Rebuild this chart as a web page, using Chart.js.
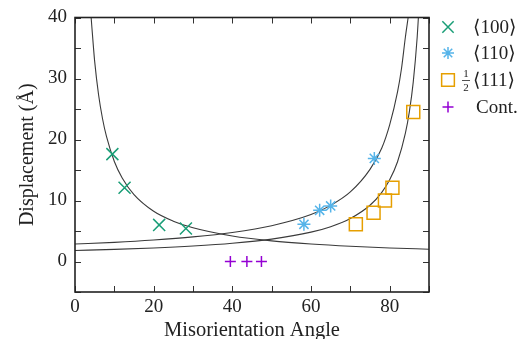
<!DOCTYPE html>
<html>
<head>
<meta charset="utf-8">
<script src="https://cdn.jsdelivr.net/npm/chart.js@4/dist/chart.umd.min.js"></script>
<style>
  html, body { margin: 0; padding: 0; background: #fff; }
</style>
</head>
<body>
<canvas id="chart" width="530" height="339"></canvas>
<script>
// measured points
const angle100 = [9.5, 12.6, 21.4, 28.2];
const disp100 = [17.6, 12.1, 6.0, 5.4];
const angle110 = [58.2, 62.2, 65.0, 76.1];
const disp110 = [6.1, 8.4, 9.1, 16.9];
const angle111 = [71.4, 75.9, 78.8, 80.7, 86.0];
const disp111 = [6.1, 8.0, 10.0, 12.1, 24.5];
const angleCont = [39.5, 43.7, 47.4];
const dispCont = [0, 0, 0];

// curves
const curveAAngle = [4.1, 5, 6, 7, 8, 10, 12, 15, 20, 25, 30, 40, 50, 60, 70, 80, 90];
const curveADisp = [40, 32.8, 27.3, 23.4, 20.5, 16.4, 13.7, 10.96, 8.23, 6.61, 5.53, 4.18, 3.38, 2.86, 2.49, 2.22, 2.02];
const curveBAngle = [0, 10, 20, 30, 40, 50, 60, 65, 70, 75, 78, 80, 82, 83, 84, 84.7];
const curveBDisp = [2.86, 3.14, 3.52, 4.03, 4.76, 5.87, 7.7, 9.2, 11.4, 15.1, 18.6, 22.4, 27.8, 31.6, 36.8, 40];
const curveCAngle = [0, 10, 20, 30, 40, 50, 60, 65, 70, 75, 78, 80, 82, 84, 85, 86, 87, 87.3];
const curveCDisp = [1.80, 1.98, 2.21, 2.53, 2.98, 3.67, 4.81, 5.71, 7.05, 9.22, 11.34, 13.4, 16.36, 21.03, 24.53, 29.44, 36.8, 40];

const xLabels = [0, 20, 40, 60, 80];
const yLabels = [0, 10, 20, 30, 40];

const GREEN = '#1a9e77';
const BLUE = '#56b4e9';
const ORANGE = '#e69f00';
const PURPLE = '#9400d3';
const SERIF = '"Liberation Serif", "DejaVu Serif", serif';

const pts = (xs, ys) => xs.map((v, i) => ({ x: v, y: ys[i] }));

function curve(xs, ys) {
    return {
        data: pts(xs, ys),
        showLine: true,
        borderColor: '#3a3a3a',
        borderWidth: 1.1,
        pointRadius: 0,
        cubicInterpolationMode: 'monotone',
        order: 5
    };
}

function marks(xs, ys, style, color, r) {
    return {
        data: pts(xs, ys),
        pointStyle: style,
        pointRadius: r,
        pointBorderColor: color,
        pointBackgroundColor: 'rgba(0,0,0,0)',
        pointBorderWidth: 1.5,
        showLine: false,
        order: 1
    };
}

// inward ticks on all four sides and the frame
const frameTicks = {
    id: 'frameTicks',
    afterDatasetsDraw(chart) {
        const { ctx, chartArea: a, scales } = chart;
        ctx.save();
        ctx.strokeStyle = '#333';
        ctx.lineWidth = 1;
        ctx.beginPath();
        scales.x.ticks.forEach(t => {
            const px = Math.round(scales.x.getPixelForValue(t.value)) + 0.5;
            ctx.moveTo(px, a.bottom); ctx.lineTo(px, a.bottom - 6);
            ctx.moveTo(px, a.top); ctx.lineTo(px, a.top + 6);
        });
        scales.y.ticks.forEach(t => {
            const py = Math.round(scales.y.getPixelForValue(t.value)) + 0.5;
            ctx.moveTo(a.left, py); ctx.lineTo(a.left + 6, py);
            ctx.moveTo(a.right, py); ctx.lineTo(a.right - 6, py);
        });
        ctx.stroke();
        ctx.strokeStyle = '#222';
        ctx.lineWidth = 1.6;
        ctx.strokeRect(a.left, a.top, a.right - a.left, a.bottom - a.top);
        ctx.restore();
    }
};

// legend to the right of the plot
const sideLegend = {
    id: 'sideLegend',
    afterDraw(chart) {
        const { ctx } = chart;
        const draw = Chart.helpers.drawPoint;
        const items = [
            { style: 'crossRot', color: GREEN, r: 8, y: 27, text: '\u27e8100\u27e9', tx: 473 },
            { style: 'star', color: BLUE, r: 6, y: 53, text: '\u27e8110\u27e9', tx: 473 },
            { style: 'rect', color: ORANGE, r: 9, y: 80, text: '\u27e8111\u27e9', tx: 473 },
            { style: 'cross', color: PURPLE, r: 5.5, y: 107, text: 'Cont.', tx: 476 }
        ];
        ctx.save();
        items.forEach(it => {
            ctx.strokeStyle = it.color;
            ctx.fillStyle = 'rgba(0,0,0,0)';
            ctx.lineWidth = 1.5;
            draw(ctx, { pointStyle: it.style, radius: it.r, borderWidth: 1.5 }, 448, it.y);
            ctx.fillStyle = '#222';
            ctx.font = '19px ' + SERIF;
            ctx.textBaseline = 'middle';
            ctx.textAlign = 'left';
            ctx.fillText(it.text, it.tx, it.y + 1);
        });
        // the 1/2 in front of <111>
        ctx.font = '11px ' + SERIF;
        ctx.textAlign = 'center';
        ctx.fillText('1', 466, 74);
        ctx.fillText('2', 466, 88);
        ctx.strokeStyle = '#222';
        ctx.lineWidth = 0.8;
        ctx.beginPath();
        ctx.moveTo(462, 80.5); ctx.lineTo(470, 80.5);
        ctx.stroke();
        ctx.restore();
    }
};

const data = {
    datasets: [
        marks(angle100, disp100, 'crossRot', GREEN, 8.5),
        marks(angle110, disp110, 'star', BLUE, 6.5),
        marks(angle111, disp111, 'rect', ORANGE, 9.2),
        marks(angleCont, dispCont, 'cross', PURPLE, 5.5),
        curve(curveAAngle, curveADisp),
        curve(curveBAngle, curveBDisp),
        curve(curveCAngle, curveCDisp)
    ]
};

const tickFont = { family: SERIF, size: 19, lineHeight: 1 };

const options = {
    responsive: false,
    animation: false,
    layout: { padding: { left: 0, right: 101, top: 9, bottom: 0 } },
    plugins: { legend: { display: false }, tooltip: { enabled: false } },
    scales: {
        x: {
            type: 'linear',
            min: 0,
            max: 90,
            grid: { display: false, drawTicks: false },
            border: { display: false },
            ticks: {
                stepSize: 10,
                color: '#222',
                font: tickFont,
                padding: 6,
                maxRotation: 0,
                autoSkip: false,
                callback: function (value) {
                    return xLabels.includes(value) ? String(value) : '';
                }
            },
            title: {
                display: true,
                text: 'Misorientation Angle',
                color: '#222',
                font: { family: SERIF, size: 20.5, lineHeight: 1.1 },
                padding: { top: 0, bottom: -3 }
            },
            afterFit: s => { s.height = 47; }
        },
        y: {
            type: 'linear',
            min: -5,
            max: 40,
            grid: { display: false, drawTicks: false },
            border: { display: false },
            ticks: {
                stepSize: 5,
                color: '#222',
                font: tickFont,
                padding: 8,
                autoSkip: false,
                callback: function (value) {
                    return yLabels.includes(value) ? String(value) : '';
                }
            },
            title: {
                display: true,
                text: 'Displacement (\u00c5)',
                color: '#222',
                font: { family: SERIF, size: 20 },
                padding: { top: 16, bottom: 0 }
            },
            afterFit: s => { s.width = 75; }
        }
    }
};

new Chart(document.getElementById('chart').getContext('2d'), {
    type: 'scatter',
    data,
    options,
    plugins: [frameTicks, sideLegend]
});
</script>
</body>
</html>
